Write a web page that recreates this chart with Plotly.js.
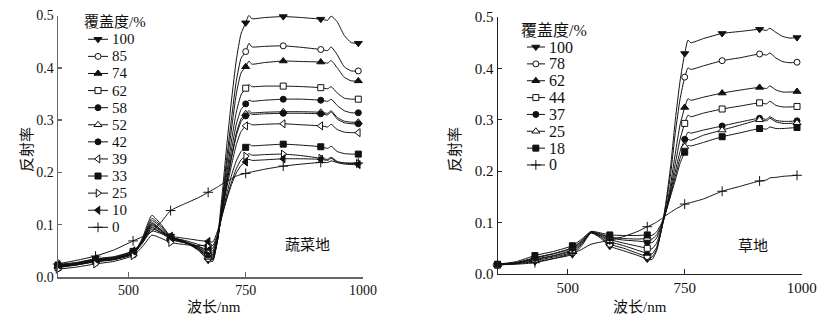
<!DOCTYPE html>
<html><head><meta charset="utf-8">
<script src="https://cdn.plot.ly/plotly-3.0.1.min.js"></script>
<style>html,body{margin:0;padding:0;background:#fff;}#chart{width:832px;height:321px;}</style>
</head><body><div id="chart"></div>
<script>
// ---------- data ----------
const WAVELENGTHS = [350,390,430,470,510,530,550,570,590,620,650,670,680,690,700,710,720,730,740,750,757,763,790,830,870,910,925,932,945,960,975,990];
const MARKER_WAVELENGTHS = [350,430,510,590,670,750,830,910,990];
const X_TICKS = [500,750,1000];
const Y_TICKS = [0,0.1,0.2,0.3,0.4,0.5];

const VEG_LABELS = ['100','85','74','62','58','52','42','39','33','25','10','0'];
const VEG_100 = [.020,.024,.030,.034,.044,.075,.118,.100,.078,.068,.050,.032,.030,.075,.160,.255,.340,.415,.465,.486,.501,.494,.496,.498,.496,.493,.491,.499,.488,.462,.448,.447];
const VEG_85  = [.022,.026,.032,.036,.046,.072,.112,.097,.077,.068,.052,.035,.033,.070,.145,.230,.305,.375,.418,.431,.447,.440,.441,.442,.439,.435,.433,.440,.425,.402,.394,.394];
const VEG_74  = [.021,.025,.031,.035,.045,.070,.108,.094,.076,.067,.053,.038,.036,.070,.140,.215,.285,.350,.390,.402,.413,.407,.410,.413,.412,.411,.409,.414,.400,.382,.375,.375];
const VEG_62  = [.018,.023,.030,.034,.044,.068,.104,.090,.072,.065,.053,.040,.038,.070,.135,.200,.262,.315,.348,.361,.368,.364,.365,.365,.364,.362,.360,.364,.352,.342,.340,.340];
const VEG_58  = [.022,.026,.033,.037,.047,.070,.102,.090,.075,.067,.055,.042,.040,.072,.130,.190,.245,.292,.320,.331,.338,.336,.338,.340,.340,.338,.336,.340,.328,.318,.314,.314];
const VEG_52  = [.020,.024,.030,.034,.045,.068,.100,.088,.074,.066,.056,.045,.043,.073,.128,.182,.232,.275,.302,.312,.318,.314,.315,.316,.316,.315,.313,.318,.305,.298,.296,.296];
const VEG_42  = [.021,.025,.032,.036,.047,.069,.098,.087,.075,.068,.058,.048,.046,.075,.128,.180,.228,.270,.297,.308,.314,.311,.312,.313,.313,.312,.310,.316,.302,.295,.293,.293];
const VEG_39  = [.019,.023,.029,.033,.044,.064,.095,.084,.072,.066,.058,.052,.050,.078,.125,.172,.215,.253,.278,.289,.294,.291,.292,.293,.291,.289,.287,.292,.282,.277,.276,.276];
const VEG_33  = [.023,.027,.034,.038,.049,.068,.092,.085,.076,.070,.062,.057,.055,.080,.120,.160,.195,.222,.240,.248,.254,.251,.252,.254,.252,.249,.246,.250,.240,.236,.235,.235];
const VEG_25  = [.015,.019,.025,.030,.041,.058,.080,.074,.066,.062,.060,.061,.060,.082,.118,.152,.182,.207,.224,.231,.236,.233,.234,.235,.232,.227,.225,.229,.221,.218,.217,.217];
const VEG_10  = [.024,.028,.035,.039,.050,.066,.088,.083,.078,.074,.070,.068,.067,.088,.120,.150,.177,.199,.213,.220,.225,.223,.224,.226,.226,.225,.223,.227,.219,.216,.215,.215];
const VEG_0   = [.025,.032,.040,.052,.069,.077,.087,.105,.127,.140,.152,.162,.167,.172,.178,.183,.188,.193,.196,.198,.200,.201,.206,.212,.216,.219,.219,.222,.219,.218,.218,.218];

const GRASS_LABELS = ['100','78','62','44','37','25','18','0'];
const GRASS_100 = [.018,.020,.024,.030,.038,.055,.080,.070,.054,.045,.036,.029,.028,.045,.085,.140,.210,.300,.375,.429,.455,.450,.458,.468,.472,.476,.474,.478,.470,.462,.459,.460];
const GRASS_78  = [.018,.021,.026,.033,.042,.058,.081,.072,.058,.050,.040,.034,.033,.048,.085,.135,.195,.275,.340,.383,.401,.398,.405,.415,.421,.428,.426,.430,.420,.413,.411,.412];
const GRASS_62  = [.018,.021,.028,.035,.045,.060,.081,.074,.063,.055,.046,.040,.039,.052,.085,.125,.175,.235,.290,.324,.341,.338,.344,.352,.358,.363,.361,.366,.358,.354,.354,.355];
const GRASS_44  = [.017,.021,.029,.036,.047,.062,.080,.075,.067,.060,.054,.050,.049,.060,.088,.122,.165,.215,.262,.293,.309,.306,.313,.321,.327,.333,.331,.336,.328,.325,.325,.326];
const GRASS_37  = [.019,.022,.031,.039,.050,.064,.081,.077,.070,.066,.064,.062,.061,.070,.092,.122,.160,.200,.238,.262,.276,.274,.280,.288,.296,.303,.301,.306,.299,.297,.297,.298];
const GRASS_25  = [.018,.022,.032,.040,.051,.065,.082,.078,.072,.069,.068,.069,.068,.076,.095,.122,.155,.190,.225,.248,.262,.260,.270,.280,.290,.300,.298,.303,.296,.293,.293,.294];
const GRASS_18  = [.019,.024,.036,.044,.055,.068,.083,.080,.076,.075,.075,.076,.075,.082,.098,.122,.152,.183,.215,.237,.250,.249,.256,.267,.275,.283,.282,.286,.283,.283,.284,.285];
const GRASS_0   = [.018,.019,.022,.030,.040,.048,.058,.062,.066,.073,.083,.092,.096,.101,.107,.114,.120,.126,.131,.136,.138,.139,.146,.161,.171,.181,.183,.187,.188,.190,.191,.192];

// ---------- styles ----------
const INK = '#111';
const FONT = 'Liberation Serif, Noto Sans CJK SC, serif';

const VEG = [
  [VEG_100,'triangle-down',false],[VEG_85,'circle',true],[VEG_74,'triangle-up',false],
  [VEG_62,'square',true],[VEG_58,'circle',false],[VEG_52,'triangle-up',true],
  [VEG_42,'circle',false],[VEG_39,'triangle-left',true],[VEG_33,'square',false],
  [VEG_25,'triangle-right',true],[VEG_10,'triangle-left',false],[VEG_0,'cross-thin-open',false]
];
const GRASS = [
  [GRASS_100,'triangle-down',false],[GRASS_78,'circle',true],[GRASS_62,'triangle-up',false],
  [GRASS_44,'square',true],[GRASS_37,'circle',false],[GRASS_25,'triangle-up',true],
  [GRASS_18,'square',false],[GRASS_0,'cross-thin-open',false]
];

function markerStyle(symbol, open){
  const tri = symbol.indexOf('triangle') === 0;
  if (symbol === 'cross-thin-open') return {symbol, size:7, color: INK, line:{color: INK, width:1}};
  return {symbol, size: tri ? 7 : 6, color: open ? '#fff' : INK, line:{color: INK, width:1}};
}

const traces = [];
const annotations = [];

function addPanel(series, labels, xa, ya, lxa, lya, legendFont){
  series.forEach(([vals]) => {
    traces.push({type:'scatter', mode:'lines', x: WAVELENGTHS, y: vals, xaxis: xa, yaxis: ya,
      line:{color: INK, width:1, shape:'spline', smoothing:0.5}, hoverinfo:'skip', showlegend:false, cliponaxis:false});
  });
  series.forEach(([vals, sym, open]) => {
    traces.push({type:'scatter', mode:'markers', x: MARKER_WAVELENGTHS,
      y: MARKER_WAVELENGTHS.map(w => vals[WAVELENGTHS.indexOf(w)]), xaxis: xa, yaxis: ya,
      marker: markerStyle(sym, open), hoverinfo:'skip', showlegend:false, cliponaxis:false});
  });
  series.forEach(([vals, sym, open], i) => {
    traces.push({type:'scatter', mode:'lines', x:[0,1], y:[i,i], xaxis:lxa, yaxis:lya,
      line:{color: INK, width:1}, hoverinfo:'skip', showlegend:false, cliponaxis:false});
    traces.push({type:'scatter', mode:'markers', x:[0.5], y:[i], xaxis:lxa, yaxis:lya,
      marker: markerStyle(sym, open), hoverinfo:'skip', showlegend:false, cliponaxis:false});
    annotations.push({xref: lxa, yref: lya, x:1, y:i, text: labels[i], showarrow:false,
      xanchor:'left', yanchor:'middle', xshift:2, font:{family: FONT, size: legendFont, color: INK}});
  });
}

addPanel(VEG, VEG_LABELS, 'x', 'y', 'x3', 'y3', 15);
addPanel(GRASS, GRASS_LABELS, 'x2', 'y2', 'x4', 'y4', 16);

function mainX(domain, anchor, color, width, fs){
  return {domain, anchor, range:[350,1000], tickvals: X_TICKS, ticks:'inside', ticklen:5,
    tickcolor: color, tickwidth: width, showline:true, linecolor: color, linewidth: width,
    showgrid:false, zeroline:false, tickfont:{family: FONT, size: fs, color: INK}, fixedrange:true};
}
function mainY(domain, anchor, color, width, fs){
  return {domain, anchor, range:[0,0.5], tickvals: Y_TICKS, tickformat:'.1f', ticks:'inside', ticklen:4,
    tickcolor: color, tickwidth: width, showline:true, linecolor: color, linewidth: width,
    showgrid:false, zeroline:false, tickfont:{family: FONT, size: fs, color: INK}, fixedrange:true};
}
function hidden(domain, range, anchor){
  return {domain, range, anchor, visible:false, fixedrange:true};
}

const textAnn = (x, y, text, extra) => Object.assign({xref:'paper', yref:'paper', x, y, text, showarrow:false,
  xanchor:'center', yanchor:'middle', font:{family: FONT, size:15, color: INK}}, extra || {});

annotations.push(
  textAnn(115/832, 1-22/321, '覆盖度/%'),
  textAnn(554/832, 1-30/321, '覆盖度/%', {font:{family: FONT, size:16, color: INK}}),
  textAnn(27/832, 1-150/321, '反射率', {textangle:-90}),
  textAnn(455/832, 1-150/321, '反射率', {textangle:-90}),
  textAnn(214/832, 1-307/321, '波长/nm'),
  textAnn(640/832, 1-307/321, '波长/nm'),
  {xref:'x', yref:'y', x:882, y:0.061, text:'蔬菜地', showarrow:false, font:{family: FONT, size:15, color: INK}},
  {xref:'x2', yref:'y2', x:896, y:0.054, text:'草地', showarrow:false, font:{family: FONT, size:15, color: INK}}
);

const layout = {
  width:832, height:321, margin:{l:0,r:0,t:0,b:0}, paper_bgcolor:'#fff', plot_bgcolor:'rgba(0,0,0,0)',
  showlegend:false,
  xaxis: mainX([58/832, 363/832], 'y', '#666', 1.5, 14),
  yaxis: mainY([1-277/321, 1-15.5/321], 'x', '#666', 1.5, 14),
  xaxis2: mainX([497.5/832, 801.7/832], 'y2', '#222', 1, 15),
  yaxis2: mainY([1-274/321, 1-17/321], 'x2', '#222', 1, 15),
  xaxis3: hidden([88/832, 108/832], [0,1], 'y3'),
  yaxis3: hidden([1-235.85/321, 1-30.75/321], [VEG_LABELS.length-0.5, -0.5], 'x3'),
  xaxis4: hidden([526.7/832, 545/832], [0,1], 'y4'),
  yaxis4: hidden([1-173.4/321, 1-38.6/321], [GRASS_LABELS.length-0.5, -0.5], 'x4'),
  annotations
};

Plotly.newPlot('chart', traces, layout, {staticPlot:true, displayModeBar:false});
</script>
</body></html>
